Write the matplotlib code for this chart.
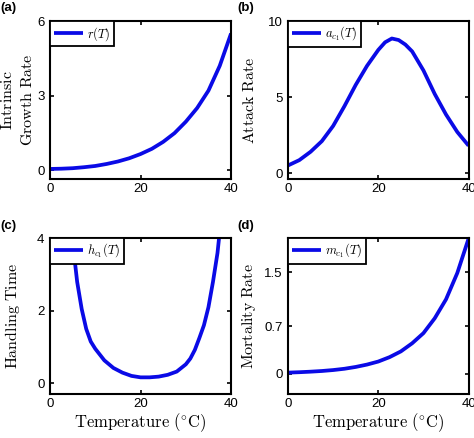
import matplotlib
matplotlib.use("Agg")
import matplotlib.pyplot as plt

plt.rcParams['mathtext.fontset'] = 'cm'
plt.rcParams['font.family'] = ['Liberation Sans', 'DejaVu Sans']

# --------------------------------------------------------------------
# -- donnees
# --------------------------------------------------------------------
temp = [0, 2.5, 5, 7.5, 10, 12.5, 15, 17.5, 20, 22.5, 25, 27.5, 30,
        32.5, 35, 37.5, 40]
growth = [0.05, 0.06, 0.08, 0.12, 0.17, 0.25, 0.35, 0.48, 0.65, 0.86,
          1.14, 1.49, 1.95, 2.5, 3.2, 4.2, 5.5]
mortality = [0.016, 0.022, 0.03, 0.04, 0.054, 0.073, 0.1, 0.135, 0.18,
             0.245, 0.33, 0.45, 0.6, 0.82, 1.1, 1.49, 2.0]

temp_a = [0, 2.5, 5, 7.5, 10, 12.5, 15, 17.5, 20, 21.5, 23, 24.5, 26,
          27.5, 30, 32.5, 35, 37.5, 40]
attack = [0.5, 0.85, 1.4, 2.1, 3.1, 4.4, 5.8, 7.05, 8.1, 8.6, 8.85, 8.75,
          8.45, 8.0, 6.75, 5.2, 3.85, 2.7, 1.8]

temp_h = [4, 5, 6, 7, 8, 9, 10, 12, 14, 16, 18, 20, 22, 24, 26, 28, 30,
          31, 32, 33, 34, 35, 36, 37, 38]
handling = [5.6, 3.9, 2.8, 2.05, 1.5, 1.15, 0.95, 0.63, 0.42, 0.29, 0.2,
            0.16, 0.16, 0.18, 0.23, 0.32, 0.52, 0.68, 0.92, 1.25, 1.6,
            2.1, 2.8, 3.6, 4.8]

panels = [
    ('(a)', temp, growth, r'$r(T)$',
     '$\\mathrm{Intrinsic}$\n$\\mathrm{Growth\\ Rate}$',
     (-0.36, 6), [0, 3, 6], ['0', '3', '6'], -0.18),
    ('(b)', temp_a, attack, r'$a_{c_1}(T)$', r'$\mathrm{Attack\ Rate}$',
     (-0.4, 10), [0, 5, 10], ['0', '5', '10'], -0.215),
    ('(c)', temp_h, handling, r'$h_{c_1}(T)$', r'$\mathrm{Handling\ Time}$',
     (-0.3, 4), [0, 2, 4], ['0', '2', '4'], -0.205),
    ('(d)', temp, mortality, r'$m_{c_1}(T)$',
     r'$\mathrm{Mortality\ Rate}$',
     (-0.3, 2.0), [0, 0.7, 1.5], ['0', '0.7', '1.5'], -0.215),
]

# positions des axes (fraction de figure)
rects = [[0.1055, 0.591, 0.382, 0.361],
         [0.6076, 0.591, 0.381, 0.361],
         [0.1055, 0.1005, 0.382, 0.355],
         [0.6076, 0.1005, 0.381, 0.355]]
tags_pos = [(0.0, 0.982), (0.5, 0.982), (0.0, 0.484), (0.5, 0.484)]

fig = plt.figure(figsize=(4.74, 4.38), dpi=100)

for i, (tag, x, y, leg, ylab, ylim, yt, ytl, lx) in enumerate(panels):
    ax = fig.add_axes(rects[i])
    ax.plot(x, y, color='#0a0ae6', lw=2.7, label=leg, solid_capstyle='butt')
    ax.set_xlim(0, 40)
    ax.set_ylim(*ylim)
    ax.set_xticks([0, 20, 40])
    ax.set_yticks(yt)
    ax.set_yticklabels(ytl)
    ax.tick_params(direction='in', top=True, right=True, length=3,
                   width=1.2, labelsize=9.5, pad=4)
    ax.tick_params(axis='x', pad=3)
    for s in ax.spines.values():
        s.set_linewidth(1.5)
    ax.set_ylabel(ylab, fontsize=11.5, va='center', linespacing=1.4)
    ax.yaxis.set_label_coords(lx, 0.5)
    if i >= 2:
        ax.set_xlabel(r'$\mathrm{Temperature}\ (^{\circ}\mathrm{C})$',
                      fontsize=12, va='center')
        ax.xaxis.set_label_coords(0.5, -0.185)
    lg = ax.legend(loc='upper left', borderaxespad=0, fancybox=False,
                   edgecolor='black', framealpha=1, fontsize=9,
                   handlelength=2.3, handletextpad=0.35, borderpad=0.3)
    lg.get_frame().set_linewidth(1.3)
    fig.text(tags_pos[i][0], tags_pos[i][1], tag, fontsize=9.5,
             fontweight='bold', va='center', ha='left')

fig.savefig('out.png', dpi=100)
